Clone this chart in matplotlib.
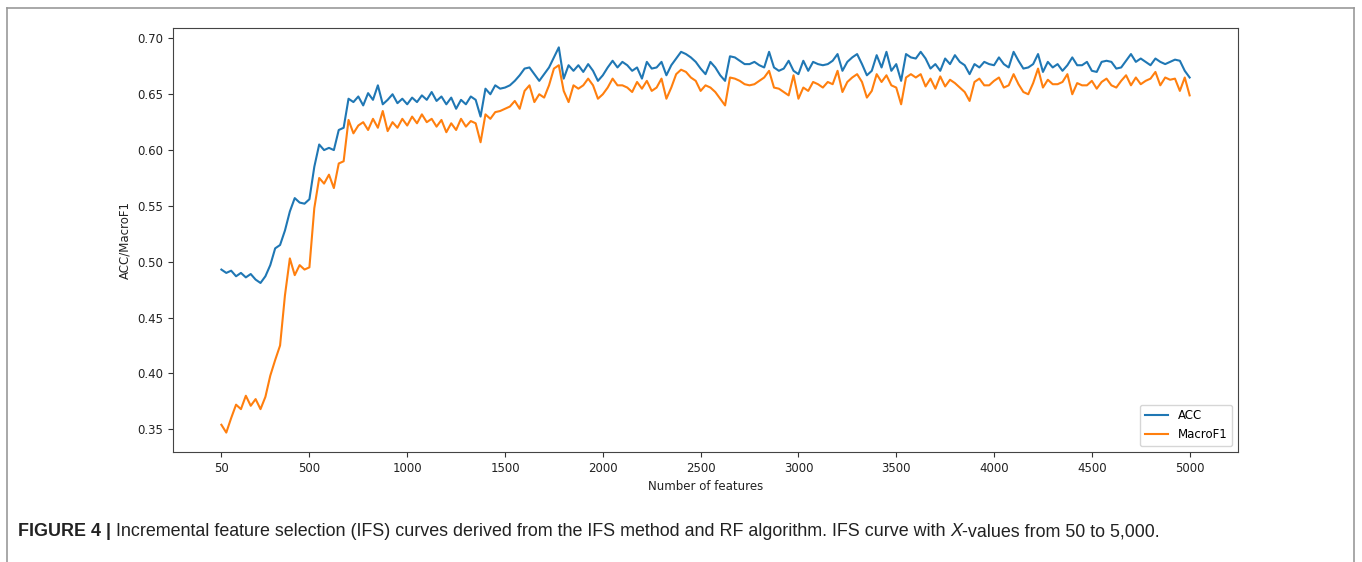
import numpy as np
import matplotlib
matplotlib.use("Agg")
import matplotlib.pyplot as plt
from matplotlib.lines import Line2D

# number of features: 50 .. 5000 every 25
features = list(range(50, 5001, 25))

acc = [
    # 50 - 1450
    0.493, 0.490, 0.492, 0.487, 0.490, 0.486, 0.489, 0.484, 0.481, 0.487,
    0.497, 0.512, 0.515, 0.528, 0.545, 0.557, 0.553, 0.552, 0.556, 0.585,
    0.605, 0.600, 0.602, 0.600, 0.618, 0.620, 0.646, 0.643, 0.648, 0.640,
    0.651, 0.645, 0.658, 0.641, 0.645, 0.650, 0.642, 0.646, 0.641, 0.647,
    0.643, 0.649, 0.645, 0.652, 0.644, 0.648, 0.641, 0.647, 0.637, 0.645,
    0.641, 0.648, 0.645, 0.630, 0.655, 0.650, 0.658,
    # 1475 - 3275
    0.655, 0.656, 0.658, 0.662, 0.667, 0.673, 0.674, 0.668, 0.662, 0.668,
    0.674, 0.683, 0.692, 0.664, 0.676, 0.671, 0.676, 0.670, 0.677, 0.671,
    0.662, 0.667, 0.674, 0.680, 0.674, 0.679, 0.676, 0.671, 0.674, 0.664,
    0.679, 0.673, 0.674, 0.679, 0.667, 0.676, 0.682, 0.688, 0.686, 0.683,
    0.679, 0.673, 0.668, 0.679, 0.674, 0.667, 0.662, 0.684, 0.683, 0.680,
    0.677, 0.677, 0.679, 0.676, 0.674, 0.688, 0.674, 0.671, 0.673, 0.680,
    0.671, 0.668, 0.680, 0.671, 0.679, 0.677, 0.676, 0.677, 0.680, 0.686,
    0.671, 0.679, 0.683,
    # 3300 - 5000
    0.686, 0.677, 0.667, 0.671, 0.685, 0.674, 0.688, 0.671, 0.677, 0.662,
    0.686, 0.683, 0.682, 0.688, 0.682, 0.673, 0.677, 0.671, 0.682, 0.677,
    0.685, 0.679, 0.676, 0.668, 0.677, 0.674, 0.679, 0.677, 0.676, 0.683,
    0.677, 0.674, 0.688, 0.680, 0.673, 0.674, 0.677, 0.686, 0.670, 0.679,
    0.674, 0.677, 0.671, 0.676, 0.683, 0.676, 0.676, 0.679, 0.671, 0.670,
    0.679, 0.680, 0.679, 0.673, 0.674, 0.680, 0.686, 0.679, 0.682, 0.679,
    0.676, 0.682, 0.679, 0.677, 0.679, 0.681, 0.680, 0.671, 0.665,
]

macro_f1 = [
    # 50 - 1450
    0.354, 0.347, 0.360, 0.372, 0.368, 0.380, 0.371, 0.377, 0.368, 0.379,
    0.398, 0.412, 0.425, 0.470, 0.503, 0.488, 0.497, 0.493, 0.495, 0.548,
    0.575, 0.570, 0.578, 0.566, 0.588, 0.590, 0.627, 0.615, 0.622, 0.625,
    0.618, 0.628, 0.620, 0.635, 0.617, 0.625, 0.620, 0.628, 0.622, 0.630,
    0.624, 0.632, 0.625, 0.628, 0.621, 0.627, 0.616, 0.624, 0.618, 0.628,
    0.621, 0.626, 0.624, 0.607, 0.632, 0.628, 0.634,
    # 1475 - 3275
    0.635, 0.637, 0.639, 0.644, 0.637, 0.653, 0.658, 0.643, 0.650, 0.647,
    0.658, 0.673, 0.676, 0.653, 0.643, 0.658, 0.655, 0.658, 0.664, 0.658,
    0.646, 0.650, 0.656, 0.664, 0.658, 0.658, 0.656, 0.652, 0.661, 0.655,
    0.662, 0.653, 0.656, 0.664, 0.646, 0.656, 0.668, 0.672, 0.670, 0.665,
    0.662, 0.653, 0.658, 0.656, 0.652, 0.646, 0.640, 0.665, 0.664, 0.662,
    0.659, 0.658, 0.659, 0.662, 0.665, 0.671, 0.656, 0.655, 0.652, 0.649,
    0.667, 0.646, 0.656, 0.653, 0.661, 0.659, 0.656, 0.661, 0.659, 0.671,
    0.652, 0.661, 0.665,
    # 3300 - 5000
    0.668, 0.661, 0.647, 0.653, 0.668, 0.661, 0.667, 0.658, 0.656, 0.641,
    0.665, 0.668, 0.665, 0.668, 0.657, 0.664, 0.655, 0.666, 0.657, 0.663,
    0.660, 0.656, 0.652, 0.644, 0.661, 0.664, 0.658, 0.658, 0.662, 0.665,
    0.656, 0.658, 0.668, 0.659, 0.652, 0.650, 0.660, 0.673, 0.656, 0.663,
    0.659, 0.659, 0.661, 0.668, 0.650, 0.660, 0.658, 0.658, 0.662, 0.655,
    0.661, 0.664, 0.658, 0.656, 0.662, 0.667, 0.658, 0.665, 0.659, 0.662,
    0.664, 0.670, 0.658, 0.665, 0.663, 0.664, 0.653, 0.665, 0.649,
]

xticks = [50, 500, 1000, 1500, 2000, 2500, 3000, 3500, 4000, 4500, 5000]
yticks = [0.35, 0.40, 0.45, 0.50, 0.55, 0.60, 0.65, 0.70]

plt.rcParams['font.size'] = 8

fig = plt.figure(figsize=(13.62, 5.62), dpi=100)
ax = fig.add_axes([0.127, 0.196, 0.782, 0.754])

ax.plot(features, acc, color='#1f77b4', lw=1.5, label='ACC')
ax.plot(features, macro_f1, color='#ff7f0e', lw=1.5, label='MacroF1')

ax.set_xticks(xticks)
ax.set_yticks(yticks)
ax.set_yticklabels([f"{v:.2f}" for v in yticks])
ax.tick_params(labelsize=8.5, color='#333333', labelcolor='#222222')
for s in ax.spines.values():
    s.set_color('#444444')
ax.set_xlabel('Number of features', fontsize=8.5, color='#222222')
ax.set_ylabel('ACC/MacroF1', fontsize=8.5, color='#222222')
ax.legend(loc='lower right', fontsize=8.5)

# border around the whole figure (bottom edge is cut off)
fx0, fx1 = 7 / 1362, 1354 / 1362
fy_top = 1 - 8 / 562
for xs, ys in [([fx0, fx0], [0, fy_top]), ([fx1, fx1], [0, fy_top]), ([fx0, fx1], [fy_top, fy_top])]:
    fig.add_artist(Line2D(xs, ys, transform=fig.transFigure, color='#999999', lw=1.2))

# caption
cap_font = ['Liberation Sans', 'DejaVu Sans']
cap_size = 12.9
t1 = fig.text(18 / 1362, 1 - 532 / 562, 'FIGURE 4 | ', fontsize=cap_size, fontweight='bold',
              family=cap_font, va='center', color='#222222')
t2 = ax.annotate('Incremental feature selection (IFS) curves derived from the IFS method and RF algorithm. IFS curve with ',
                 xy=(1, 0.5), xycoords=t1, va='center', fontsize=cap_size, family=cap_font, color='#222222',
                 annotation_clip=False)
t3 = ax.annotate('X', xy=(1, 0.5), xycoords=t2, va='center', fontsize=cap_size, family=cap_font,
                 style='italic', color='#222222', annotation_clip=False)
ax.annotate('-values from 50 to 5,000.', xy=(1, 0.5), xycoords=t3, va='center', fontsize=cap_size,
            family=cap_font, color='#222222', annotation_clip=False)

fig.savefig('out.png', dpi=100)
